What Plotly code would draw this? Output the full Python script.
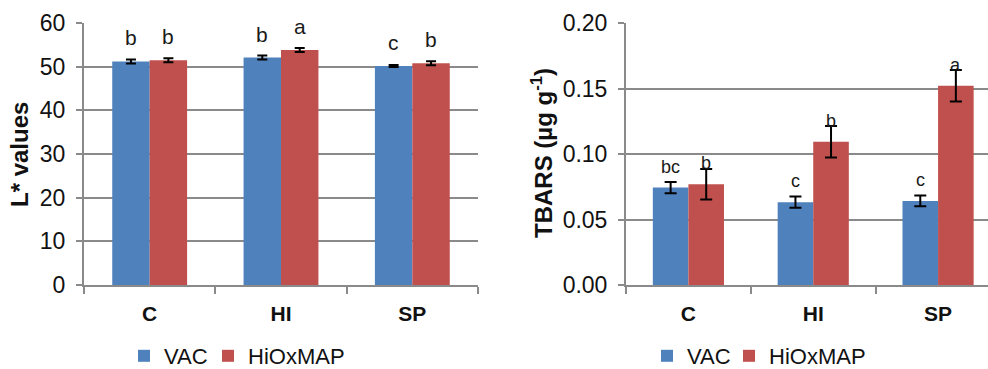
import plotly.graph_objects as go

categories = ["C", "HI", "SP"]
series_names = ["VAC", "HiOxMAP"]
colors = ["#4F81BD", "#C0504D"]

# Left panel: L* values
l_vac = [51.2, 52.1, 50.15]
l_vac_err = [0.45, 0.45, 0.25]
l_hiox = [51.45, 53.8, 50.8]
l_hiox_err = [0.45, 0.45, 0.45]
l_vac_letters = ["b", "b", "c"]
l_hiox_letters = ["b", "a", "b"]
l_ticks = [0, 10, 20, 30, 40, 50, 60]

# Right panel: TBARS
t_vac = [0.0744, 0.0632, 0.0642]
t_vac_err = [0.0043, 0.0043, 0.0041]
t_hiox = [0.0769, 0.1093, 0.1521]
t_hiox_err = [0.0117, 0.012, 0.012]
t_vac_letters = ["bc", "c", "c"]
t_hiox_letters = ["b", "b", "a"]
t_ticks = [0.0, 0.05, 0.10, 0.15, 0.20]

BARGAP = 0.43
FONT = "Liberation Sans, Arial, sans-serif"
GRID = "#8a8a8a"
W, H = 988, 369

fig = go.Figure()

def add_bars(xa, ya, vals, errs, name, color, legend, errw):
    fig.add_trace(go.Bar(
        x=categories, y=vals, name=name, marker=dict(color=color, line=dict(width=0)),
        error_y=dict(type="data", array=errs, color="black", thickness=2, width=errw),
        xaxis=xa, yaxis=ya, legend=legend, showlegend=True,
    ))

add_bars("x", "y", l_vac, l_vac_err, series_names[0], colors[0], "legend", 5)
add_bars("x", "y", l_hiox, l_hiox_err, series_names[1], colors[1], "legend2", 5)
add_bars("x2", "y2", t_vac, t_vac_err, series_names[0], colors[0], "legend3", 6)
add_bars("x2", "y2", t_hiox, t_hiox_err, series_names[1], colors[1], "legend4", 6)

off = (1 - BARGAP) / 4
annotations = []
def add_letters(xref, yref, vals, letters, sign, size, shift):
    for i, (v, t) in enumerate(zip(vals, letters)):
        annotations.append(dict(
            x=i + sign * off, y=v, xref=xref, yref=yref, text=t, showarrow=False,
            yanchor="bottom", yshift=shift, font=dict(family=FONT, size=size, color="#1a1a1a"),
        ))

add_letters("x", "y", l_vac, l_vac_letters, -1, 21, 10)
add_letters("x", "y", l_hiox, l_hiox_letters, 1, 21, 10)
add_letters("x2", "y2", t_vac, t_vac_letters, -1, 18, 9)
add_letters("x2", "y2", t_hiox, t_hiox_letters, 1, 18, 9)

# Axis titles
annotations.append(dict(x=20 / W, y=1 - 155 / H, xref="paper", yref="paper", text="<b>L* values</b>",
                        textangle=-90, showarrow=False, font=dict(family=FONT, size=24, color="#111"),
                        xanchor="center", yanchor="middle"))
annotations.append(dict(x=542 / W, y=1 - 153 / H, xref="paper", yref="paper",
                        text="<b>TBARS (µg g<sup>-1</sup>)</b>",
                        textangle=-90, showarrow=False, font=dict(family=FONT, size=24, color="#111"),
                        xanchor="center", yanchor="middle"))

ydom = [1 - 285 / H, 1 - 23 / H]
xcommon = dict(type="category", tickson="boundaries", ticks="outside", ticklen=7, tickwidth=2,
               tickcolor=GRID, showline=True, linecolor=GRID, linewidth=2, showgrid=False,
               ticklabelstandoff=9,
               tickfont=dict(family=FONT, size=21, color="#111"))
ycommon = dict(ticks="outside", ticklen=6, tickwidth=2, tickcolor=GRID, showline=True,
               linecolor=GRID, linewidth=2, showgrid=True, gridcolor=GRID, gridwidth=2,
               ticklabelstandoff=6,
               tickfont=dict(family=FONT, size=23, color="#111"), zeroline=False, domain=ydom)

legend_common = dict(orientation="h", yanchor="middle", y=1 - 356 / H, xanchor="left",
                     font=dict(family=FONT, size=22, color="#111"), itemwidth=30,
                     traceorder="normal", bgcolor="rgba(0,0,0,0)")

fig.update_layout(
    width=W, height=H, margin=dict(l=0, r=0, t=0, b=0, autoexpand=False),
    paper_bgcolor="white", plot_bgcolor="white",
    barmode="group", bargap=BARGAP, bargroupgap=0,
    xaxis=dict(**xcommon, domain=[84 / W, 478 / W],
               anchor="y", range=[-0.5, 2.5], tickvals=categories,
               ticktext=[f"<b>{c}</b>" for c in categories]),
    xaxis2=dict(**xcommon, domain=[626 / W, 1.0],
                anchor="y2", range=[-0.5, 2.40], tickvals=categories,
                ticktext=[f"<b>{c}</b>" for c in categories]),
    yaxis=dict(**ycommon, anchor="x", range=[0, 60], tickvals=l_ticks,
               ticktext=[str(t) for t in l_ticks]),
    yaxis2=dict(**ycommon, anchor="x2", range=[0, 0.20], tickvals=t_ticks,
                ticktext=[f"{t:.2f}" for t in t_ticks]),
    legend=dict(**legend_common, x=124 / W),
    legend2=dict(**legend_common, x=208 / W),
    legend3=dict(**legend_common, x=647 / W),
    legend4=dict(**legend_common, x=729 / W),
    annotations=annotations,
    showlegend=True,
)

fig.write_html("out.html")
